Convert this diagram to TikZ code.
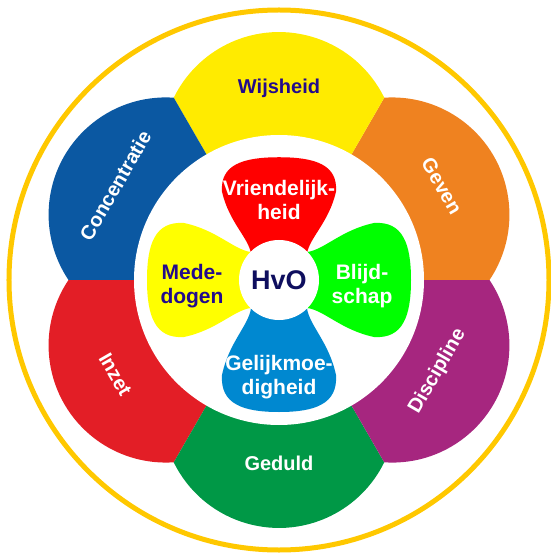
\documentclass[tikz,border=0pt]{standalone}
\usepackage{fontspec}
\setmainfont{Liberation Sans}
\usepackage{tikz}

\definecolor{ringgold}{HTML}{FFC800}
\definecolor{secgeven}{HTML}{EF8220}
\definecolor{secwijs}{HTML}{FFEB00}
\definecolor{secconc}{HTML}{0B58A2}
\definecolor{secinzet}{HTML}{E31E26}
\definecolor{secgeduld}{HTML}{009846}
\definecolor{secdisc}{HTML}{A6267F}
\definecolor{petred}{HTML}{FF0000}
\definecolor{petgreen}{HTML}{00FF00}
\definecolor{petblue}{HTML}{0088D0}
\definecolor{petyellow}{HTML}{FFFF00}
\definecolor{labelnavy}{HTML}{220A8C}
\definecolor{hvonavy}{HTML}{0E0E5E}

\begin{document}
\begin{tikzpicture}[
    x=1pt, y=1pt,
    ringlabel/.style ={font=\fontsize{20}{24}\selectfont\bfseries, text=white, inner sep=0pt},
    petallabel/.style ={font=\fontsize{21}{24}\selectfont\bfseries, text=white, align=center, inner sep=0pt},
    petal/.pic ={\fill[#1] (28,28) .. controls (30,45) and (50,62) .. (57,95)
        .. controls (59,124) and (36,132) .. (0,132)
        .. controls (-36,132) and (-59,124) .. (-57,95)
        .. controls (-50,62) and (-30,45) .. (-28,28) -- cycle;},
]

\useasboundingbox (-279,-274) rectangle (271,280);

% Gold ring
\draw [ringgold, line width=5pt] (0,0) circle [radius=270pt];

% Outer sectors
\foreach \ang/\col in {0/secgeven, 60/secwijs, 120/secconc, 180/secinzet, 240/secgeduld, 300/secdisc} {
    \pgfmathsetmacro\midang{\ang+30}
    \fill [\col] (0,0) -- (\ang:210.5) arc [start angle=\midang-63.9, end angle=\midang+63.9, radius=117.2pt] -- cycle;
}
\fill [white] (0,0) circle [radius=145pt];

% Inner petals
\pic [yscale=0.93] {petal=petred};
\pic [rotate=-90] {petal=petgreen};
\pic [rotate=180] {petal=petblue};
\pic [rotate=90] {petal=petyellow};

% Nodes
\node [circle, fill=white, minimum size=80pt, inner sep=0pt, text=hvonavy, font=\fontsize{27}{30}\selectfont\bfseries] (hvo) at (0,0) {HvO};

\node [ringlabel, text=labelnavy] (wijsheid) at (90:192) {Wijsheid};
\node [ringlabel, rotate=-60] (geven) at (30:188) {Geven};
\node [ringlabel, rotate=60] (discipline) at (330:183) {Discipline};
\node [ringlabel] (geduld) at (270:183) {Geduld};
\node [ringlabel, rotate=-60] (inzet) at (210:189) {Inzet};
\node [ringlabel, rotate=60] (concentratie) at (150:189) {Concentratie};

\node [petallabel] (vriendelijkheid) at (0,80) {Vriendelijk-\\heid};
\node [petallabel] (blijdschap) at (83,-6) {Blijd-\\schap};
\node [petallabel] (gelijkmoedigheid) at (0,-97) {Gelijkmoe-\\digheid};
\node [petallabel, text=labelnavy] (mededogen) at (-87,-6) {Mede-\\dogen};

\end{tikzpicture}
\end{document}
